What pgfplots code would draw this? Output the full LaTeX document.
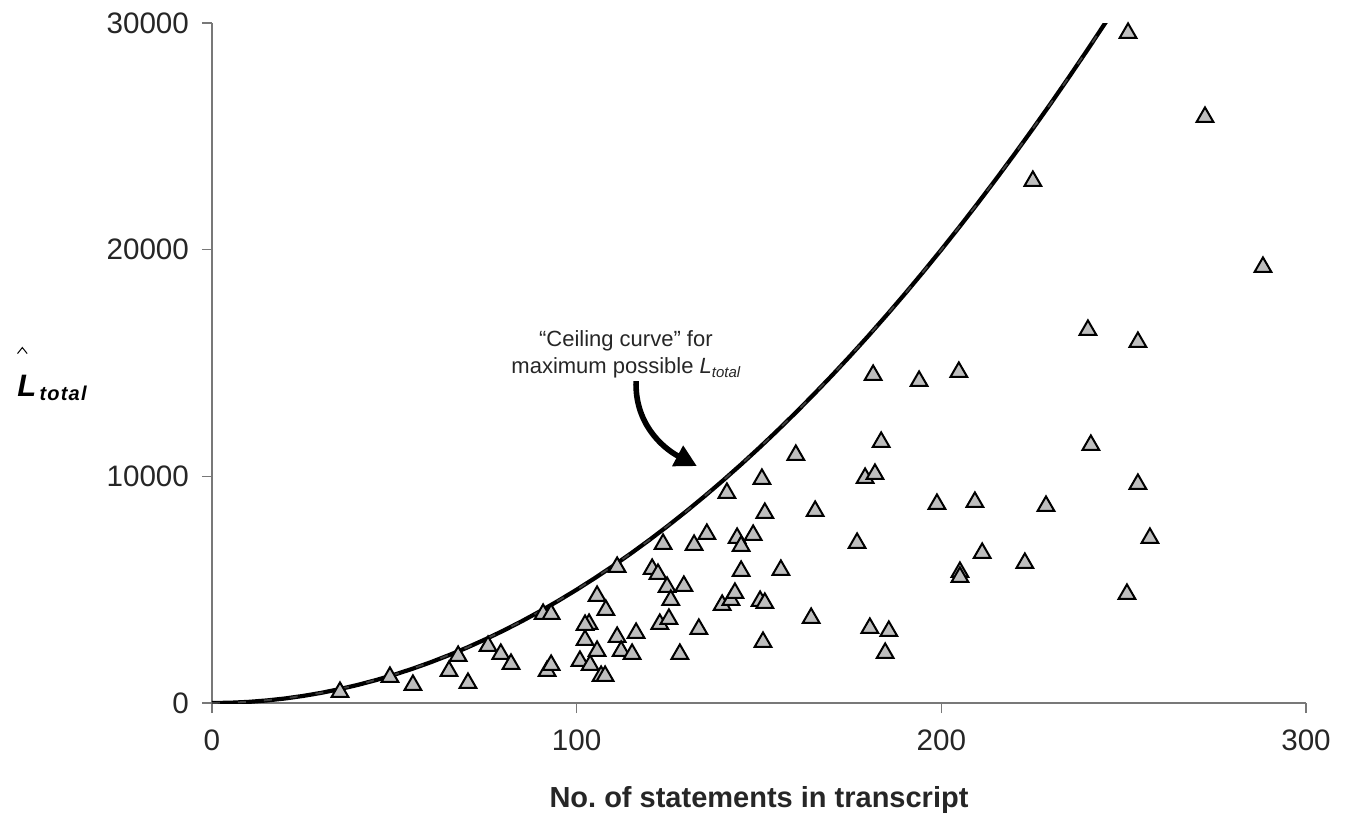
\documentclass[border=0pt]{standalone}
\usepackage{pgfplots}
\pgfplotsset{compat=1.18}
\usepackage{fontspec}
\setmainfont{Liberation Sans}
\usetikzlibrary{arrows.meta}
\definecolor{mygray}{RGB}{190,190,190}
\definecolor{axgray}{RGB}{120,120,120}
\begin{document}
\begin{tikzpicture}
\begin{axis}[
  scale only axis, width=547pt, height=340pt,
  xmin=0, xmax=300, ymin=0, ymax=30000,
  axis x line*=bottom, axis y line*=left,
  axis line style={axgray, line width=0.8pt},
  xtick={0,100,200,300}, ytick={0,10000,20000,30000},
  tick align=outside, major tick length=5pt,
  tick style={axgray, line width=0.8pt},
  scaled y ticks=false,
  /pgf/number format/assume math mode=true,
  /pgf/number format/1000 sep={},
  ticklabel style={font=\fontsize{14.8}{17}\selectfont, text=black!85},
  yticklabel style={xshift=-3pt},
  xticklabel style={yshift=-5pt},
  clip mode=individual,
]
% ceiling curve
\addplot[black, line width=2.1pt] coordinates {
(0,0) (5,13) (10,50) (15,113) (20,200) (25,313) (30,450) (35,613) (40,800) (45,1013)
(50,1250) (55,1513) (60,1800) (65,2113) (70,2450) (75,2813) (80,3200) (85,3613) (90,4050) (95,4513)
(100,5000) (105,5513) (110,6050) (115,6613) (120,7200) (125,7813) (130,8450) (135,9113) (140,9800) (145,10513)
(150,11250) (155,12013) (160,12800) (165,13613) (170,14450) (175,15313) (180,16200) (185,17113) (190,18050) (195,19013)
(200,20000) (205,21013) (210,22050) (215,23113) (220,24200) (225,25313) (230,26450) (235,27613) (240,28800) (245,30013) (250,31250)
};
\addplot[gray, line width=0.9pt, opacity=0.5, dash pattern=on 4pt off 9pt] coordinates {
(0,0) (10,50) (20,200) (30,450) (40,800) (50,1250) (60,1800) (70,2450) (80,3200) (90,4050)
(100,5000) (110,6050) (120,7200) (130,8450) (140,9800) (150,11250) (160,12800) (170,14450) (180,16200) (190,18050)
(200,20000) (210,22050) (220,24200) (230,26450) (240,28800) (245,30013) (250,31250)
};
% data points
\addplot[only marks, mark=triangle*, mark size=4.8pt,
  mark options={fill=mygray, draw=black, line width=1pt}] coordinates {
(35.1,485) (48.8,1147) (55.1,794) (65.0,1412) (67.5,2074) (70.2,882) (75.7,2515) (79.2,2162) (82.0,1721)
(90.8,3926) (93.0,3926) (91.9,1412) (93.0,1676) (100.9,1853) (102.3,2779) (103.4,3485) (102.3,3441) (103.7,1676)
(105.6,2294) (105.6,4721) (108.0,4103) (106.7,1191) (107.8,1191) (111.1,2912) (111.1,6000) (112.2,2294) (115.2,2162)
(116.3,3088) (120.7,5912) (122.3,5691) (122.8,3485) (123.7,7015) (124.8,5118) (125.3,3706) (125.8,4544) (128.3,2162)
(129.4,5162) (132.2,6971) (133.5,3265) (135.7,7456) (139.9,4324) (141.2,9265) (142.3,4544) (143.4,4853) (144.0,7279)
(145.1,5824) (145.1,6926) (148.4,7412) (150.3,4500) (150.8,9882) (151.1,2691) (151.6,4412) (151.6,8382) (156.0,5868)
(160.1,10941) (164.3,3750) (165.4,8471) (176.9,7059) (179.1,9926) (180.4,3309) (181.3,14471) (181.8,10103) (183.5,11515)
(184.6,2206) (185.6,3176) (193.9,14206) (198.8,8779) (204.8,14603) (205.1,5779) (205.1,5559) (209.2,8868) (211.2,6618)
(222.9,6176) (225.1,23029) (228.7,8691) (240.2,16456) (241.0,11382) (250.9,4809) (251.2,29559) (253.9,15926) (253.9,9662)
(257.2,7279) (272.3,25853) (288.2,19235)
};
% annotation
\node[align=center, font=\fontsize{11}{13.5}\selectfont, text=black!85] at (axis cs:113.5,15400)
  {“Ceiling curve” for\\maximum possible \textit{L}{\fontsize{7.5}{9}\selectfont\textit{\raisebox{-2pt}{total}}}};
\draw[-{Triangle[length=11pt,width=11pt]}, line width=2.8pt, black]
  (axis cs:116.3,14200) to[out=-92, in=152] (axis cs:133.0,10450);
% y label
\node[anchor=base west, inner sep=0pt] at (axis cs:-53.5,13544)
  {{\fontsize{15.5}{18}\selectfont\bfseries\itshape L}\,\raisebox{-2pt}{\fontsize{10}{12}\selectfont\bfseries\itshape t\kern0.6pt o\kern0.6pt t\kern0.6pt a\kern0.6pt l}};
\node[inner sep=0pt] at (axis cs:-52.0,15550) {\tikz\draw[line width=0.5pt] (0,0) -- (2.4pt,3pt) -- (4.8pt,0);};
% x label
\node[font=\fontsize{14.5}{17}\selectfont\bfseries, text=black!85] at (axis cs:150,-4280)
  {No.\ of statements in transcript};
% bounding box
\path (axis cs:-58.13,31015) rectangle (axis cs:310.97,-4941);
\end{axis}
\end{tikzpicture}
\end{document}
